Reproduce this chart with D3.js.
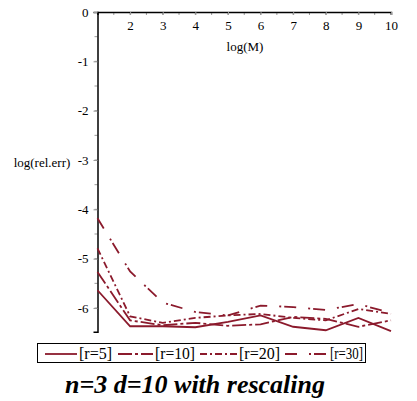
<!DOCTYPE html>
<html>
<head>
<meta charset="utf-8">
<script src="https://cdn.jsdelivr.net/npm/d3@7"></script>
<style>
  body { margin: 0; background: #fff; }
</style>
</head>
<body>
<div id="chart"></div>
<script>
// data
var logM = [1, 2, 3, 4, 5, 6, 7, 8, 9, 10];
var r5  = [-5.64, -6.37, -6.37, -6.39, -6.28, -6.15, -6.38, -6.45, -6.20, -6.47];
var r10 = [-5.27, -6.25, -6.35, -6.30, -6.36, -6.33, -6.18, -6.22, -6.38, -6.25];
var r20 = [-4.79, -6.17, -6.30, -6.20, -6.15, -6.12, -6.20, -6.25, -6.02, -6.12];
var r30 = [-4.18, -5.26, -5.89, -6.08, -6.15, -5.95, -5.98, -6.04, -5.92, -6.10];
var seriesNames = ["[r=5]", "[r=10]", "[r=20]", "[r=30]"];
var xTicks = [2, 3, 4, 5, 6, 7, 8, 9, 10];
var yTicks = [0, -1, -2, -3, -4, -5, -6];

var W = 417, H = 401;
var FONT = "'Liberation Serif', Tinos, 'Times New Roman', 'DejaVu Serif', serif";
var lineColor = "#8b1a2c";
var dashes = [null, "14,3,3,3", "7,3,2,3", "12,12,2,3"];

var svg = d3.select("#chart")
    .append("svg")
    .attr("width", W)
    .attr("height", H)
    .attr("font-family", FONT);

var x = d3.scaleLinear()
    .domain([1, 10])
    .range([97.5, 391]);

var y = d3.scaleLinear()
    .domain([0, -6.48])
    .range([12, 331.7]);

// minor ticks
svg.append("g")
    .selectAll("line")
    .data(d3.range(1.5, 10.01, 0.5))
    .enter()
    .append("line")
    .attr("x1", function (d) { return x(d); })
    .attr("x2", function (d) { return x(d); })
    .attr("y1", y(0))
    .attr("y2", y(0) + 3)
    .attr("stroke", "#999");
svg.append("g")
    .selectAll("line")
    .data(d3.range(-0.5, -6.49, -0.5))
    .enter()
    .append("line")
    .attr("x1", x(1) - 3)
    .attr("x2", x(1))
    .attr("y1", function (d) { return y(d); })
    .attr("y2", function (d) { return y(d); })
    .attr("stroke", "#999");

// X axis at the top (y = 0)
var xAxis = svg.append("g")
    .attr("transform", "translate(0," + y(0) + ")")
    .call(d3.axisBottom(x).tickValues(xTicks).tickSize(3).tickPadding(6).tickFormat(d3.format("d")));
xAxis.attr("font-family", FONT).attr("font-size", 13);
xAxis.select(".domain").attr("stroke", "#000").attr("stroke-width", 1.5);
xAxis.selectAll(".tick line").attr("stroke", "#999");
xAxis.selectAll("text").attr("fill", "#000");

// Y axis
var yAxis = svg.append("g")
    .attr("transform", "translate(" + x(1) + ",0)")
    .call(d3.axisLeft(y).tickValues(yTicks).tickSize(4).tickPadding(5)
        .tickFormat(function (d) { return String(d); }));
yAxis.attr("font-family", FONT).attr("font-size", 13);
yAxis.select(".domain").attr("stroke", "#000").attr("stroke-width", 1.5);
yAxis.selectAll(".tick line").attr("stroke", "#999");
yAxis.selectAll("text").attr("fill", "#000");

// axis titles
svg.append("text")
    .attr("x", 245)
    .attr("y", 51)
    .attr("text-anchor", "middle")
    .attr("font-size", 13)
    .text("log(M)");
svg.append("text")
    .attr("x", 42)
    .attr("y", 167)
    .attr("text-anchor", "middle")
    .attr("font-size", 13)
    .text("log(rel.err)");

// lines
var allSeries = [r5, r10, r20, r30];
var line = d3.line()
    .x(function (d, i) { return x(logM[i]); })
    .y(function (d) { return y(d); });

svg.append("g")
    .selectAll("path")
    .data(allSeries)
    .enter()
    .append("path")
    .attr("d", function (d) { return line(d); })
    .attr("fill", "none")
    .attr("stroke", lineColor)
    .attr("stroke-width", 1.8)
    .attr("stroke-dasharray", function (d, i) { return dashes[i]; });

// legend
var legend = svg.append("g");
legend.append("rect")
    .attr("x", 37.5)
    .attr("y", 343.5)
    .attr("width", 328)
    .attr("height", 19)
    .attr("fill", "none")
    .attr("stroke", "#000");

// [line start, line end, text x, text width]
var legendX = [[45, 77, 79, 33], [118, 153, 155, 40], [200, 237, 239, 41], [285, 327, 330, 33]];
seriesNames.forEach(function (name, i) {
    legend.append("line")
        .attr("x1", legendX[i][0])
        .attr("x2", legendX[i][1])
        .attr("y1", 354)
        .attr("y2", 354)
        .attr("stroke", lineColor)
        .attr("stroke-width", 1.8)
        .attr("stroke-dasharray", dashes[i]);
    legend.append("text")
        .attr("x", legendX[i][2])
        .attr("y", 359)
        .attr("font-size", 16)
        .attr("textLength", legendX[i][3])
        .attr("lengthAdjust", "spacingAndGlyphs")
        .text(name);
});

// title
svg.append("text")
    .attr("x", 195)
    .attr("y", 393)
    .attr("text-anchor", "middle")
    .attr("font-size", 26)
    .attr("font-weight", "bold")
    .attr("font-style", "italic")
    .text("n=3 d=10 with rescaling");
</script>
</body>
</html>
